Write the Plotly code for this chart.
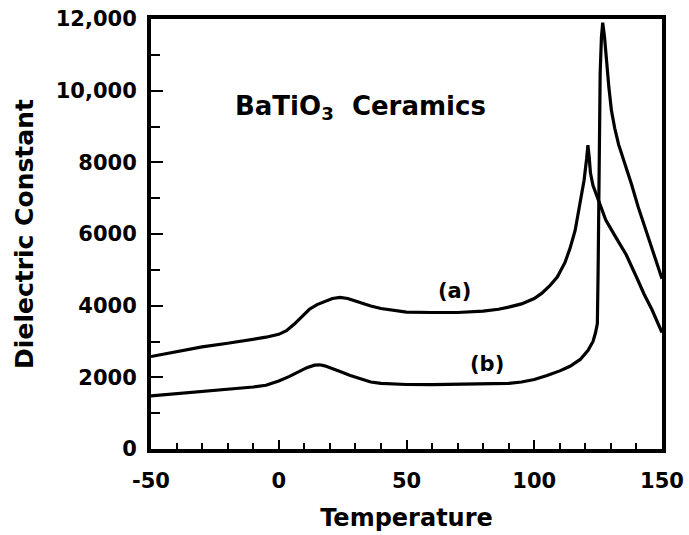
import plotly.graph_objects as go

# Curve (a)
temp_a = [-50, -40, -30, -20, -10, -5, 0, 3, 6, 9, 12, 15, 18, 21, 24, 27, 30, 33, 36, 40, 45, 50, 60, 70, 80, 86,
          90, 95, 100, 103, 106, 109, 112, 114, 116, 118, 119.5, 120.5, 121, 121.5, 122, 123, 125, 128, 132, 136,
          140, 143, 146, 148, 150]
eps_a = [2580, 2720, 2850, 2950, 3060, 3120, 3200, 3300, 3480, 3700, 3900, 4030, 4120, 4200, 4230, 4200, 4130,
         4050, 3990, 3920, 3860, 3820, 3810, 3810, 3850, 3900, 3960, 4050, 4200, 4350, 4550, 4800, 5200, 5600,
         6100, 6850, 7500, 8100, 8480, 8150, 7700, 7350, 6940, 6390, 5900, 5420, 4800, 4320, 3900, 3550, 3250]

# Curve (b)
temp_b = [-50, -40, -30, -20, -10, -5, 0, 4, 8, 11, 14, 16, 18, 21, 24, 28, 32, 36, 40, 50, 60, 70, 80, 90, 95,
          100, 105, 110, 114, 118, 121, 123, 124, 124.7, 125, 125.3, 125.8, 126.3, 126.8, 127.5, 128.3, 129.2,
          130.2, 131.5, 133, 135.6, 138, 140.7, 143.4, 145.7, 148, 150]
eps_b = [1480, 1540, 1590, 1660, 1730, 1780, 1900, 2020, 2160, 2270, 2340, 2350, 2320, 2250, 2160, 2050, 1950,
         1870, 1830, 1800, 1795, 1800, 1810, 1830, 1870, 1940, 2050, 2180, 2310, 2500, 2750, 3000, 3250, 3500,
         5000, 8000, 10500, 11500, 11900, 11500, 10800, 10100, 9450, 8950, 8500, 7960, 7400, 6750, 6150, 5640,
         5200, 4750]

y_tickvals = [0, 2000, 4000, 6000, 8000, 10000, 12000]
y_ticktext = ["0", "2000", "4000", "6000", "8000", "10,000", "12,000"]
y_minor = [1000, 3000, 5000, 7000, 9000, 11000]
x_tickvals = [-50, 0, 50, 100, 150]
x_ticktext = ["-50", "0", "50", "100", "150"]
x_minor = [-40, -30, -20, -10, 10, 20, 30, 40, 60, 70, 80, 90, 110, 120, 130, 140]

FONT = "DejaVu Sans"

fig = go.Figure()
fig.add_trace(go.Scatter(x=temp_a, y=eps_a, mode="lines", line=dict(color="black", width=3.2),
                         showlegend=False, hoverinfo="skip"))
fig.add_trace(go.Scatter(x=temp_b, y=eps_b, mode="lines", line=dict(color="black", width=3.2),
                         showlegend=False, hoverinfo="skip"))

fig.add_annotation(x=32, y=9540, text="BaTiO<sub>3</sub>  Ceramics", showarrow=False,
                   font=dict(family=FONT, size=26, color="black", weight="bold"))
fig.add_annotation(x=68.8, y=4396, text="(a)", showarrow=False,
                   font=dict(family=FONT, size=21, color="black", weight="bold"))
fig.add_annotation(x=81.5, y=2378, text="(b)", showarrow=False,
                   font=dict(family=FONT, size=21, color="black", weight="bold"))

fig.update_layout(
    width=689, height=535,
    margin=dict(l=151, r=27, t=19, b=86),
    paper_bgcolor="white", plot_bgcolor="white",
    xaxis=dict(range=[-50, 150], tickmode="array", tickvals=x_tickvals, ticktext=x_ticktext,
               ticks="inside", ticklen=9, tickwidth=2, tickcolor="black",
               showline=True, linewidth=4, linecolor="black", mirror=True,
               showgrid=False, zeroline=False, automargin=False,
               tickfont=dict(family=FONT, size=21, color="black", weight="bold"),
               ticklabelstandoff=10,
               minor=dict(tickmode="array", tickvals=x_minor, ticks="inside", ticklen=6, tickwidth=2, tickcolor="black", showgrid=False),
               title=dict(text="Temperature", font=dict(family=FONT, size=24, color="black", weight="bold"), standoff=18)),
    yaxis=dict(range=[0, 12000], tickmode="array", tickvals=y_tickvals, ticktext=y_ticktext,
               ticks="inside", ticklen=12, tickwidth=2, tickcolor="black",
               showline=True, linewidth=4, linecolor="black", mirror=True,
               showgrid=False, zeroline=False, automargin=False,
               tickfont=dict(family=FONT, size=21, color="black", weight="bold"),
               ticklabelstandoff=6,
               minor=dict(tickmode="array", tickvals=y_minor, ticks="inside", ticklen=9, tickwidth=2, tickcolor="black", showgrid=False),
               title=dict(text="Dielectric Constant", font=dict(family=FONT, size=25, color="black", weight="bold"), standoff=16)),
)

fig.write_html("out.html")
